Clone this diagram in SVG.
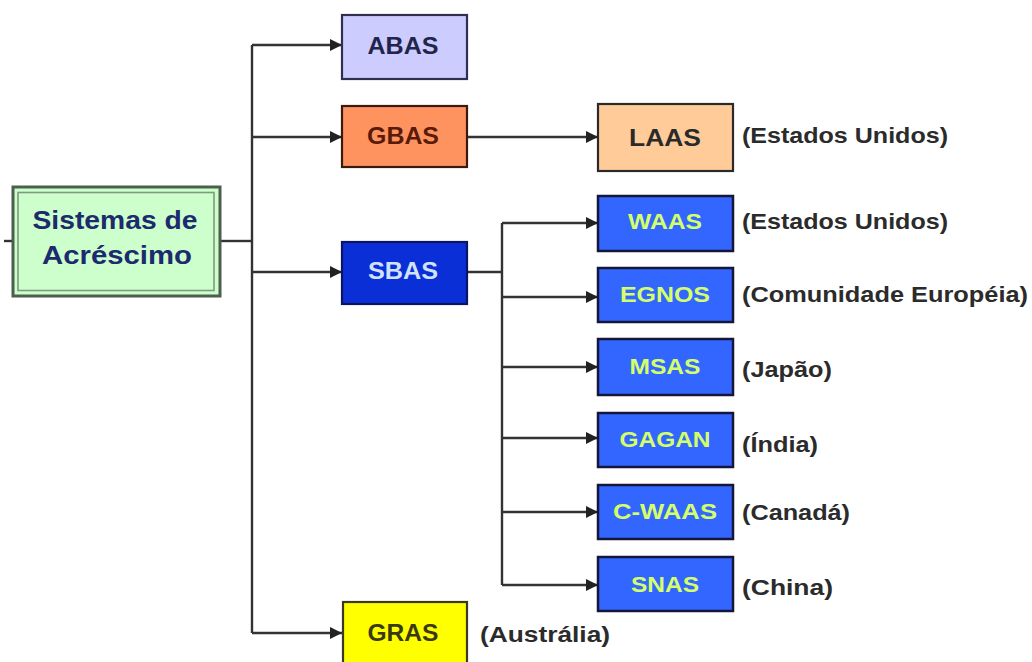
<svg xmlns="http://www.w3.org/2000/svg" width="1032" height="662" viewBox="0 0 1032 662">
  <style>
    text { font-family: "Liberation Sans", Arial, sans-serif; font-weight: bold; }
    .node { stroke-width: 2.2; }
    .nt { font-size: 24px; text-anchor: middle; }
    .st { font-size: 22px; text-anchor: middle; fill: #d4ff6a; }
    .lbl { font-size: 22px; fill: #2b2b2b; }
    .sub { fill: #3366ff; stroke: #14163a; stroke-width: 2.5; }
    .wire { fill: none; stroke: #333; stroke-width: 2.4; }
  </style>
  <defs>
    <marker id="arr" viewBox="0 0 10 10" refX="10" refY="5" markerWidth="5.5" markerHeight="5" markerUnits="strokeWidth" orient="auto">
      <path d="M0,0 L10,5 L0,10 z" fill="#222"/>
    </marker>
  </defs>
  <rect width="1032" height="662" fill="#ffffff"/>

  <!-- connectors -->
  <g id="connectors" class="wire">
    <line x1="4" y1="241" x2="13" y2="241"/>
    <line x1="220" y1="241" x2="252" y2="241"/>
    <line x1="252" y1="45" x2="252" y2="633"/>
    <line x1="252" y1="45" x2="342" y2="45" marker-end="url(#arr)"/>
    <line x1="252" y1="137" x2="342" y2="137" marker-end="url(#arr)"/>
    <line x1="252" y1="272" x2="342" y2="272" marker-end="url(#arr)"/>
    <line x1="252" y1="633" x2="342" y2="633" marker-end="url(#arr)"/>
    <line x1="467" y1="137" x2="598" y2="137" marker-end="url(#arr)"/>
    <line x1="467" y1="272" x2="502" y2="272"/>
    <line x1="502" y1="223" x2="502" y2="585"/>
    <line x1="502" y1="223" x2="598" y2="223" marker-end="url(#arr)"/>
    <line x1="502" y1="297" x2="598" y2="297" marker-end="url(#arr)"/>
    <line x1="502" y1="367" x2="598" y2="367" marker-end="url(#arr)"/>
    <line x1="502" y1="438" x2="598" y2="438" marker-end="url(#arr)"/>
    <line x1="502" y1="512" x2="598" y2="512" marker-end="url(#arr)"/>
    <line x1="502" y1="585" x2="598" y2="585" marker-end="url(#arr)"/>
  </g>

  <!-- root -->
  <g id="root">
    <rect x="13" y="187" width="207" height="109" fill="#ccffcc" stroke="#4d5e4d" stroke-width="3"/>
    <rect x="18" y="192.5" width="196" height="98" fill="none" stroke="#7f9a7f" stroke-width="1.6"/>
    <text x="115" y="229" font-size="26" text-anchor="middle" fill="#1c2a6e" textLength="165" lengthAdjust="spacingAndGlyphs">Sistemas de</text>
    <text x="117" y="264" font-size="26" text-anchor="middle" fill="#1c2a6e" textLength="150" lengthAdjust="spacingAndGlyphs">Acréscimo</text>
  </g>

  <g id="abas">
    <rect class="node" x="342" y="15" width="125" height="64" fill="#ccccff" stroke="#2f3050"/>
    <text class="nt" x="403" y="54" fill="#22244a" textLength="71" lengthAdjust="spacingAndGlyphs">ABAS</text>
  </g>
  <g id="gbas">
    <rect class="node" x="342" y="106" width="125" height="61" fill="#ff9360" stroke="#3a1a10"/>
    <text class="nt" x="403" y="144" fill="#5a1a08" textLength="72" lengthAdjust="spacingAndGlyphs">GBAS</text>
  </g>
  <g id="sbas">
    <rect class="node" x="342" y="242" width="125" height="62" fill="#0a2fd6" stroke="#0a1466"/>
    <text class="nt" x="403" y="279" fill="#d0e2ff" textLength="70" lengthAdjust="spacingAndGlyphs">SBAS</text>
  </g>
  <g id="gras">
    <rect class="node" x="343" y="602" width="124" height="66" fill="#ffff00" stroke="#3a3a20"/>
    <text class="nt" x="403" y="641" fill="#3a3a10" textLength="71" lengthAdjust="spacingAndGlyphs">GRAS</text>
    <text class="lbl" x="480" y="642" textLength="130" lengthAdjust="spacingAndGlyphs">(Austrália)</text>
  </g>

  <g id="laas">
    <rect class="node" x="598" y="104" width="135" height="67" fill="#ffcc99" stroke="#2a2a2a"/>
    <text class="nt" x="665" y="146" fill="#2a2a2a" textLength="72" lengthAdjust="spacingAndGlyphs">LAAS</text>
    <text class="lbl" x="742" y="143" textLength="206" lengthAdjust="spacingAndGlyphs">(Estados Unidos)</text>
  </g>

  <g id="waas">
    <rect class="sub" x="598" y="196" width="135" height="55"/>
    <text class="st" x="665" y="229" textLength="74" lengthAdjust="spacingAndGlyphs">WAAS</text>
    <text class="lbl" x="742" y="229" textLength="206" lengthAdjust="spacingAndGlyphs">(Estados Unidos)</text>
  </g>
  <g id="egnos">
    <rect class="sub" x="598" y="268" width="135" height="54"/>
    <text class="st" x="665" y="302" textLength="90" lengthAdjust="spacingAndGlyphs">EGNOS</text>
    <text class="lbl" x="742" y="302" textLength="286" lengthAdjust="spacingAndGlyphs">(Comunidade Européia)</text>
  </g>
  <g id="msas">
    <rect class="sub" x="598" y="339" width="135" height="56" stroke-width="3"/>
    <text class="st" x="665" y="374" textLength="71" lengthAdjust="spacingAndGlyphs">MSAS</text>
    <text class="lbl" x="742" y="377" textLength="90" lengthAdjust="spacingAndGlyphs">(Japão)</text>
  </g>
  <g id="gagan">
    <rect class="sub" x="598" y="413" width="135" height="54"/>
    <text class="st" x="665" y="447" textLength="91" lengthAdjust="spacingAndGlyphs">GAGAN</text>
    <text class="lbl" x="742" y="452" textLength="76" lengthAdjust="spacingAndGlyphs">(Índia)</text>
  </g>
  <g id="cwaas">
    <rect class="sub" x="598" y="485" width="135" height="54"/>
    <text class="st" x="665" y="519" textLength="104" lengthAdjust="spacingAndGlyphs">C-WAAS</text>
    <text class="lbl" x="742" y="520" textLength="108" lengthAdjust="spacingAndGlyphs">(Canadá)</text>
  </g>
  <g id="snas">
    <rect class="sub" x="598" y="557" width="135" height="54"/>
    <text class="st" x="665" y="592" textLength="68" lengthAdjust="spacingAndGlyphs">SNAS</text>
    <text class="lbl" x="742" y="595" textLength="91" lengthAdjust="spacingAndGlyphs">(China)</text>
  </g>
</svg>
